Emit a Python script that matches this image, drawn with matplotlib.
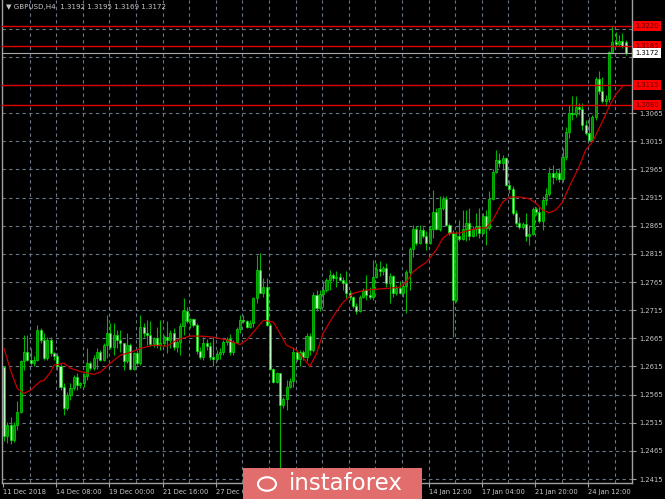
import matplotlib
matplotlib.use("Agg")
import matplotlib.pyplot as plt
from matplotlib.patches import Rectangle, Circle
import matplotlib.transforms as mtransforms
import numpy as np

# GBPUSD H4 candles
opens = [1.2614, 1.2491, 1.2511, 1.2485, 1.2511, 1.2535, 1.2624, 1.2641, 1.2627, 1.2621,
         1.2627, 1.2680, 1.2662, 1.2630, 1.2662, 1.2639, 1.2633, 1.2616, 1.2579, 1.2541,
         1.2565, 1.2576, 1.2597, 1.2582, 1.2585, 1.2598, 1.2621, 1.2612, 1.2630, 1.2641,
         1.2627, 1.2653, 1.2674, 1.2649, 1.2671, 1.2662, 1.2656, 1.2624, 1.2653, 1.2610,
         1.2639, 1.2621, 1.2686, 1.2674, 1.2671, 1.2655, 1.2665, 1.2653, 1.2657, 1.2668,
         1.2662, 1.2674, 1.2650, 1.2659, 1.2687, 1.2714, 1.2695, 1.2699, 1.2689, 1.2643,
         1.2631, 1.2657, 1.2651, 1.2631, 1.2628, 1.2638, 1.2640, 1.2658, 1.2663, 1.2640,
         1.2659, 1.2682, 1.2698, 1.2695, 1.2686, 1.2692, 1.2736, 1.2787, 1.2745, 1.2757,
         1.2689, 1.2610, 1.2588, 1.2603, 1.2546, 1.2557, 1.2579, 1.2590, 1.2641, 1.2628,
         1.2641, 1.2631, 1.2669, 1.2644, 1.2742, 1.2718, 1.2744, 1.2751, 1.2768, 1.2778,
         1.2772, 1.2774, 1.2769, 1.2763, 1.2745, 1.2739, 1.2722, 1.2714, 1.2739, 1.2751,
         1.2742, 1.2738, 1.2774, 1.2788, 1.2784, 1.2790, 1.2763, 1.2775, 1.2746, 1.2754,
         1.2746, 1.2758, 1.2782, 1.2823, 1.2859, 1.2835, 1.2858, 1.2847, 1.2835, 1.2859,
         1.2889, 1.2859, 1.2896, 1.2912, 1.2867, 1.2852, 1.2733, 1.2846, 1.2841, 1.2859,
         1.2869, 1.2847, 1.2859, 1.2865, 1.2852, 1.2883, 1.2861, 1.2912, 1.2960, 1.2981,
         1.2977, 1.2985, 1.2937, 1.2930, 1.2887, 1.2870, 1.2863, 1.2868, 1.2846, 1.2851,
         1.2894, 1.2890, 1.2873, 1.2910, 1.2921, 1.2959, 1.2952, 1.2958, 1.2948, 1.2987,
         1.3031, 1.3066, 1.3063, 1.3076, 1.3073, 1.3044, 1.3029, 1.3018, 1.3058, 1.3125,
         1.3104, 1.3086, 1.3090, 1.3174, 1.3192, 1.3188, 1.3194, 1.3192]
highs = [1.2616, 1.2517, 1.2526, 1.2517, 1.2553, 1.2627, 1.2671, 1.2671, 1.2647, 1.2633,
         1.2689, 1.2683, 1.2674, 1.2668, 1.2668, 1.2641, 1.2639, 1.2620, 1.2585, 1.2570,
         1.2585, 1.2600, 1.2603, 1.2588, 1.2603, 1.2647, 1.2624, 1.2636, 1.2647, 1.2644,
         1.2656, 1.2707, 1.2692, 1.2692, 1.2680, 1.2680, 1.2657, 1.2674, 1.2656, 1.2641,
         1.2644, 1.2707, 1.2692, 1.2698, 1.2695, 1.2668, 1.2686, 1.2698, 1.2671, 1.2695,
         1.2680, 1.2683, 1.2662, 1.2692, 1.2736, 1.2721, 1.2701, 1.2701, 1.2692, 1.2650,
         1.2668, 1.2663, 1.2659, 1.2668, 1.2644, 1.2647, 1.2662, 1.2668, 1.2673, 1.2662,
         1.2686, 1.2707, 1.2707, 1.2698, 1.2698, 1.2739, 1.2813, 1.2816, 1.2772, 1.2772,
         1.2692, 1.2612, 1.2606, 1.2604, 1.2561, 1.2591, 1.2594, 1.2650, 1.2644, 1.2644,
         1.2644, 1.2674, 1.2675, 1.2748, 1.2751, 1.2751, 1.2766, 1.2772, 1.2787, 1.2781,
         1.2784, 1.2781, 1.2774, 1.2784, 1.2751, 1.2740, 1.2727, 1.2742, 1.2754, 1.2778,
         1.2757, 1.2805, 1.2799, 1.2802, 1.2793, 1.2799, 1.2781, 1.2778, 1.2760, 1.2766,
         1.2763, 1.2787, 1.2828, 1.2867, 1.2864, 1.2867, 1.2863, 1.2855, 1.2864, 1.2929,
         1.2896, 1.2917, 1.2917, 1.2917, 1.2870, 1.2857, 1.2855, 1.2876, 1.2893, 1.2893,
         1.2896, 1.2864, 1.2888, 1.2896, 1.2888, 1.2893, 1.2926, 1.2965, 1.3000, 1.2994,
         1.2991, 1.2987, 1.2946, 1.2935, 1.2893, 1.2881, 1.2872, 1.2887, 1.2866, 1.2899,
         1.2898, 1.2899, 1.2917, 1.2932, 1.2970, 1.2973, 1.2964, 1.2967, 1.3003, 1.3041,
         1.3080, 1.3095, 1.3095, 1.3083, 1.3083, 1.3053, 1.3059, 1.3062, 1.3130, 1.3139,
         1.3130, 1.3098, 1.3176, 1.3219, 1.3210, 1.3203, 1.3207, 1.3195]
lows = [1.2482, 1.2479, 1.2478, 1.2480, 1.2502, 1.2532, 1.2609, 1.2624, 1.2618, 1.2615,
        1.2624, 1.2656, 1.2627, 1.2627, 1.2633, 1.2627, 1.2609, 1.2573, 1.2529, 1.2538,
        1.2556, 1.2573, 1.2573, 1.2576, 1.2579, 1.2591, 1.2609, 1.2609, 1.2610, 1.2624,
        1.2624, 1.2630, 1.2646, 1.2636, 1.2647, 1.2641, 1.2609, 1.2621, 1.2609, 1.2608,
        1.2618, 1.2618, 1.2668, 1.2653, 1.2652, 1.2650, 1.2647, 1.2644, 1.2652, 1.2639,
        1.2647, 1.2644, 1.2641, 1.2635, 1.2671, 1.2692, 1.2683, 1.2685, 1.2638, 1.2628,
        1.2627, 1.2644, 1.2627, 1.2615, 1.2625, 1.2629, 1.2635, 1.2653, 1.2635, 1.2635,
        1.2656, 1.2674, 1.2692, 1.2683, 1.2683, 1.2686, 1.2727, 1.2751, 1.2739, 1.2687,
        1.2608, 1.2585, 1.2585, 1.2405, 1.2541, 1.2538, 1.2576, 1.2579, 1.2624, 1.2615,
        1.2627, 1.2624, 1.2635, 1.2641, 1.2713, 1.2713, 1.2721, 1.2748, 1.2751, 1.2766,
        1.2757, 1.2766, 1.2751, 1.2736, 1.2733, 1.2719, 1.2708, 1.2711, 1.2736, 1.2733,
        1.2735, 1.2733, 1.2772, 1.2775, 1.2778, 1.2757, 1.2727, 1.2739, 1.2742, 1.2744,
        1.2739, 1.2710, 1.2751, 1.2810, 1.2831, 1.2833, 1.2843, 1.2822, 1.2833, 1.2843,
        1.2857, 1.2855, 1.2893, 1.2865, 1.2849, 1.2668, 1.2730, 1.2837, 1.2840, 1.2837,
        1.2840, 1.2845, 1.2846, 1.2843, 1.2851, 1.2831, 1.2858, 1.2911, 1.2958, 1.2970,
        1.2964, 1.2935, 1.2923, 1.2884, 1.2866, 1.2860, 1.2859, 1.2837, 1.2831, 1.2849,
        1.2884, 1.2869, 1.2857, 1.2902, 1.2917, 1.2940, 1.2946, 1.2943, 1.2943, 1.2982,
        1.3020, 1.3053, 1.3059, 1.3062, 1.3035, 1.3026, 1.3015, 1.3015, 1.3053, 1.3099,
        1.3083, 1.3077, 1.3084, 1.3172, 1.3184, 1.3185, 1.3181, 1.3169]
closes = [1.2491, 1.2511, 1.2485, 1.2511, 1.2535, 1.2624, 1.2641, 1.2627, 1.2621, 1.2627,
          1.2680, 1.2662, 1.2630, 1.2662, 1.2639, 1.2633, 1.2616, 1.2579, 1.2541, 1.2565,
          1.2576, 1.2597, 1.2582, 1.2585, 1.2598, 1.2621, 1.2612, 1.2630, 1.2641, 1.2627,
          1.2653, 1.2674, 1.2649, 1.2671, 1.2662, 1.2656, 1.2624, 1.2653, 1.2610, 1.2639,
          1.2621, 1.2686, 1.2674, 1.2671, 1.2655, 1.2665, 1.2653, 1.2657, 1.2668, 1.2662,
          1.2674, 1.2650, 1.2659, 1.2687, 1.2714, 1.2695, 1.2699, 1.2689, 1.2643, 1.2631,
          1.2657, 1.2651, 1.2631, 1.2628, 1.2638, 1.2640, 1.2658, 1.2663, 1.2640, 1.2659,
          1.2682, 1.2698, 1.2695, 1.2686, 1.2692, 1.2736, 1.2787, 1.2745, 1.2757, 1.2689,
          1.2610, 1.2588, 1.2603, 1.2546, 1.2557, 1.2579, 1.2590, 1.2641, 1.2628, 1.2641,
          1.2631, 1.2669, 1.2644, 1.2742, 1.2718, 1.2744, 1.2751, 1.2768, 1.2778, 1.2772,
          1.2774, 1.2769, 1.2763, 1.2745, 1.2739, 1.2722, 1.2714, 1.2739, 1.2751, 1.2742,
          1.2738, 1.2774, 1.2788, 1.2784, 1.2790, 1.2763, 1.2775, 1.2746, 1.2754, 1.2746,
          1.2758, 1.2782, 1.2823, 1.2859, 1.2835, 1.2858, 1.2847, 1.2835, 1.2859, 1.2889,
          1.2859, 1.2896, 1.2912, 1.2867, 1.2852, 1.2733, 1.2846, 1.2841, 1.2859, 1.2869,
          1.2847, 1.2859, 1.2865, 1.2852, 1.2883, 1.2861, 1.2912, 1.2960, 1.2981, 1.2977,
          1.2985, 1.2937, 1.2930, 1.2887, 1.2870, 1.2863, 1.2868, 1.2846, 1.2851, 1.2894,
          1.2890, 1.2873, 1.2910, 1.2921, 1.2959, 1.2952, 1.2958, 1.2948, 1.2987, 1.3031,
          1.3066, 1.3063, 1.3076, 1.3073, 1.3044, 1.3029, 1.3018, 1.3058, 1.3125, 1.3104,
          1.3086, 1.3090, 1.3174, 1.3192, 1.3188, 1.3194, 1.3185, 1.3172]

# red moving average, sampled along the line
ma_bar = [0, 2, 4, 6, 8, 11, 12, 14, 15, 18, 20, 23, 27, 29, 32, 35, 38, 41, 45, 49,
          52, 56, 59, 63, 67, 71, 73, 76, 78, 81, 83, 85, 88, 90, 92, 94, 96, 99, 102, 105,
          109, 116, 119, 121, 123, 125, 127, 130, 132, 134, 137, 140, 143, 145, 147, 149, 150, 152, 155, 158,
          160, 162, 164, 166, 168, 170, 173, 175, 177, 180, 182, 184, 186]
ma_val = [1.2647, 1.2608, 1.2576, 1.2567, 1.2573, 1.2589, 1.2590, 1.2605, 1.2617, 1.2621,
          1.2612, 1.2606, 1.2601, 1.2605, 1.2621, 1.2635, 1.2640, 1.2647, 1.2653, 1.2651,
          1.2662, 1.2669, 1.2669, 1.2667, 1.2662, 1.2654, 1.2662, 1.2683, 1.2697, 1.2694,
          1.2674, 1.2653, 1.2644, 1.2630, 1.2615, 1.2638, 1.2674, 1.2704, 1.2729, 1.2745,
          1.2751, 1.2754, 1.2756, 1.2765, 1.2783, 1.2792, 1.2800, 1.2822, 1.2843, 1.2852,
          1.2852, 1.2857, 1.2861, 1.2861, 1.2875, 1.2897, 1.2907, 1.2916, 1.2916, 1.2913,
          1.2905, 1.2893, 1.2888, 1.2893, 1.2907, 1.2934, 1.2970, 1.3000, 1.3014, 1.3050,
          1.3076, 1.3098, 1.3112]

level_prices = [1.3220, 1.3185, 1.3115, 1.3080]
bid_price = 1.3172
price_ticks = [1.2415, 1.2465, 1.2515, 1.2565, 1.2615, 1.2665, 1.2715, 1.2765,
               1.2815, 1.2865, 1.2915, 1.2965, 1.3015, 1.3065, 1.3115, 1.3165, 1.3215]
# labels hidden under the price boxes on the right
covered_ticks = [1.3115, 1.3165, 1.3215]
# date ticks every 16 bars; the ones under the watermark are blank
date_labels = ["11 Dec 2018", "14 Dec 08:00", "19 Dec 00:00", "21 Dec 16:00",
               "27 Dec 04:00", "", "", "",
               "14 Jan 12:00", "17 Jan 04:00", "21 Jan 20:00", "24 Jan 12:00"]
title = "\u25bc GBPUSD,H4  1.3192 1.3195 1.3169 1.3172"

W, H = 665, 499
GRID = "#6b7785"
TXT = "#c8c8c8"
FS = 4.9

fig = plt.figure(figsize=(W / 100, H / 100), dpi=100, facecolor="black")
ax = fig.add_axes([2 / W, 16 / H, 630 / W, 483 / H], facecolor="black")

n = len(closes)
x = np.arange(n)
o = np.array(opens)
c = np.array(closes)
hi = np.array(highs)
lo = np.array(lows)

ax.set_xlim(-0.6, 188.9)
ax.set_ylim(1.2408, 1.3266)

# grid
for k in range(1, 24):
    ax.axvline(8 * k - 0.3, color=GRID, lw=0.8, ls=(0, (3, 3)), zorder=0)
for p in price_ticks:
    ax.axhline(p, color=GRID, lw=0.8, ls=(0, (3, 3)), zorder=0)

# candles
up = c >= o
ax.vlines(x, lo, hi, color="#00b400", lw=0.8, zorder=2)
body_lo = np.minimum(o, c)
body_h = np.abs(c - o)
ax.bar(x[up], body_h[up], bottom=body_lo[up], width=0.62, color="#008a00",
       edgecolor="#00dc00", lw=0.5, zorder=3)
ax.bar(x[~up], body_h[~up], bottom=body_lo[~up], width=0.62, color="#b8f8b8",
       edgecolor="#00dc00", lw=0.5, zorder=3)

# moving average
ax.plot(ma_bar, ma_val, color="#c80000", lw=0.9, zorder=4)

# levels
for p in level_prices:
    ax.axhline(p, color="#e00000", lw=1.0, zorder=5)
ax.axhline(bid_price, color="#a8a8a8", lw=0.8, zorder=5)

# axes styling
for s in ax.spines.values():
    s.set_color("#a0a0a0")
    s.set_linewidth(1.0)
ax.spines["top"].set_visible(False)

ax.yaxis.tick_right()
ax.set_yticks(price_ticks)
ax.set_yticklabels(["" if p in covered_ticks else f"{p:.4f}" for p in price_ticks])
ax.tick_params(axis="y", colors="#a0a0a0", labelcolor=TXT, length=3, width=0.8,
               pad=2, labelsize=FS)

xt = [16 * k - 0.3 for k in range(len(date_labels))]
ax.set_xticks(xt)
ax.set_xticklabels(date_labels, ha="left")
ax.tick_params(axis="x", colors="#a0a0a0", labelcolor=TXT, length=3, width=0.8,
               pad=1.5, labelsize=FS)

# right-side price boxes
trans = mtransforms.blended_transform_factory(ax.transAxes, ax.transData)
for p in level_prices:
    ax.text(1.005, p, f"{p:.4f}", transform=trans, fontsize=FS, color="#600000",
            va="center", ha="left", clip_on=False, zorder=7,
            bbox=dict(boxstyle="square,pad=0.3", fc="#ff0000", ec="none"))
ax.text(1.005, bid_price, f"{bid_price:.4f}", transform=trans, fontsize=FS, color="black",
        va="center", ha="left", clip_on=False, zorder=7,
        bbox=dict(boxstyle="square,pad=0.3", fc="white", ec="none"))

# title
ax.text(0.006, 0.992, title, transform=ax.transAxes, fontsize=5.1, color=TXT,
        va="top", ha="left", zorder=8)

# watermark
fig.patches.append(Rectangle((243 / W, 0), 179 / W, 31 / H, transform=fig.transFigure,
                             fc="#e26d6d", ec="none", zorder=20))
fig.patches.append(Circle((267 / W, 15 / H), 9 / W, transform=fig.transFigure,
                          fc="none", ec="white", lw=1.5, zorder=21))
fig.text(289 / W, 15 / H, "instaforex", color="white", fontsize=16.5,
         va="center", ha="left", zorder=22)

fig.savefig("out.png", dpi=100, facecolor="black")
